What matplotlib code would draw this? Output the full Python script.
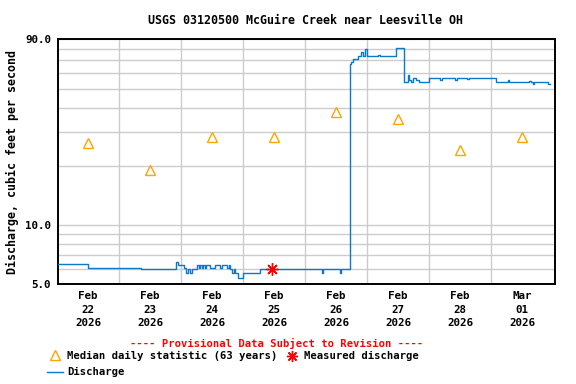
import matplotlib
matplotlib.use("Agg")
import matplotlib.pyplot as plt
from matplotlib.lines import Line2D

# hours after Feb 22 00:00, discharge (cfs), step series
q_hours = [0.5, 12.0, 32.5, 46.1, 46.8, 49.2, 49.9, 50.7, 51.5, 52.3, 54.2, 55.0,
           55.3, 56.1, 56.5, 57.3, 57.7, 59.2, 61.2, 63.1, 63.9, 65.8, 66.6, 67.0,
           67.7, 68.5, 68.9, 70.0, 72.0, 78.6, 102.6, 103.0, 109.5, 109.9,
           113.3, 113.7, 114.4, 116.5, 117.7, 118.4, 119.2, 120.0, 124.2, 125.0,
           131.2, 132.0, 134.4, 135.7, 136.2, 137.0, 137.8, 138.9, 140.1, 144.1,
           144.7, 148.2, 149.0, 154.0, 154.8, 158.6, 159.4, 169.9, 174.4, 174.9,
           182.7, 183.4, 184.2, 184.6, 190.0, 190.7]
q_vals = [6.31, 6.02, 5.95, 6.50, 6.26, 6.02, 5.71, 5.95, 5.71, 5.95, 6.26, 6.02,
          6.26, 6.02, 6.26, 6.02, 6.26, 6.02, 6.26, 6.02, 6.26, 6.02, 6.26, 5.95,
          5.71, 5.95, 5.71, 5.35, 5.67, 5.95, 5.67, 5.95, 5.67, 5.95,
          67.2, 68.3, 71.1, 73.8, 77.0, 73.8, 79.9, 73.8, 74.8, 73.8,
          80.8, 81.4, 54.1, 59.0, 55.6, 54.1, 57.0, 55.6, 54.3, 57.0,
          56.7, 55.6, 56.7, 55.6, 56.7, 55.9, 56.7, 54.1, 55.6, 54.1,
          54.6, 54.1, 53.0, 54.1, 53.0, 53.0]

median_hours = [12, 36, 60, 84, 108, 132, 156, 180]
median_vals = [26.3, 19.1, 28.4, 28.4, 38.0, 35.0, 24.3, 28.3]

meas_hours = [83.1]
meas_vals = [5.94]

day_labels = ["Feb\n22\n2026", "Feb\n23\n2026", "Feb\n24\n2026", "Feb\n25\n2026",
              "Feb\n26\n2026", "Feb\n27\n2026", "Feb\n28\n2026", "Mar\n01\n2026"]

mono = "DejaVu Sans Mono"
blue = "#0a7ac8"

fig = plt.figure(figsize=(5.76, 3.84), dpi=100)
ax = fig.add_axes([58/576, 1-284/384, (555-58)/576, (284-39)/384])

ax.step([h/24 for h in q_hours], q_vals, where="post", color=blue, lw=1.0, zorder=3)
ax.plot([h/24 for h in median_hours], median_vals, ls="none", marker="^", ms=7,
        mfc="none", mec="#ffa500", mew=1.0, zorder=4)
ax.plot([h/24 for h in meas_hours], meas_vals, ls="none", marker=(8, 2, 0), ms=9,
        color="red", mew=1.0, zorder=5)

ax.set_yscale("log")
ax.set_ylim(5, 90)
ax.set_xlim(0.016, 8.03)

yt = [5, 6, 7, 8, 9, 10, 20, 30, 40, 50, 60, 70, 80, 90]
ax.set_yticks(yt)
ax.set_yticklabels(["5.0" if v == 5 else "10.0" if v == 10 else "90.0" if v == 90 else "" for v in yt])
ax.yaxis.set_minor_locator(matplotlib.ticker.NullLocator())
ax.set_xticks([i + 0.5 for i in range(8)])
ax.set_xticklabels(day_labels, linespacing=1.45)
ax.set_xticks(range(1, 8), minor=True)

ax.grid(True, which="major", axis="y", color="#cccccc", lw=1.0)
ax.grid(True, which="minor", axis="x", color="#cccccc", lw=1.0)
ax.tick_params(axis="both", which="both", length=0, pad=5)
for lab in ax.get_xticklabels() + ax.get_yticklabels():
    lab.set_fontfamily(mono)
    lab.set_fontweight("bold")
    lab.set_fontsize(7.8)
for s in ax.spines.values():
    s.set_linewidth(1.4)

ax.set_ylabel("Discharge, cubic feet per second", fontfamily=mono, fontweight="bold",
              fontsize=8.4, labelpad=4)
fig.text(306/576, 1-20/384, "USGS 03120500 McGuire Creek near Leesville OH",
         ha="center", va="center", fontfamily=mono, fontweight="bold", fontsize=8.4)

# legend area
fig.text(277/576, 1-343/384, "---- Provisional Data Subject to Revision ----",
         ha="center", va="center", color="red", fontfamily=mono, fontweight="bold", fontsize=7.6)
fig.text(67/576, 1-356/384, "Median daily statistic (63 years)",
         ha="left", va="center", fontfamily=mono, fontweight="bold", fontsize=7.6)
fig.text(304/576, 1-356/384, "Measured discharge",
         ha="left", va="center", fontfamily=mono, fontweight="bold", fontsize=7.6)
fig.text(67/576, 1-372/384, "Discharge",
         ha="left", va="center", fontfamily=mono, fontweight="bold", fontsize=7.6)
fig.add_artist(Line2D([55/576], [1-355/384], marker="^", ms=7, mfc="none",
                      mec="#ffa500", mew=1.0, ls="none"))
fig.add_artist(Line2D([292/576], [1-356/384], marker=(8, 2, 0), ms=8, color="red",
                      mew=1.0, ls="none"))
fig.add_artist(Line2D([47/576, 63/576], [1-372/384, 1-372/384], color=blue, lw=1.0))

fig.savefig("out.png", dpi=100)
